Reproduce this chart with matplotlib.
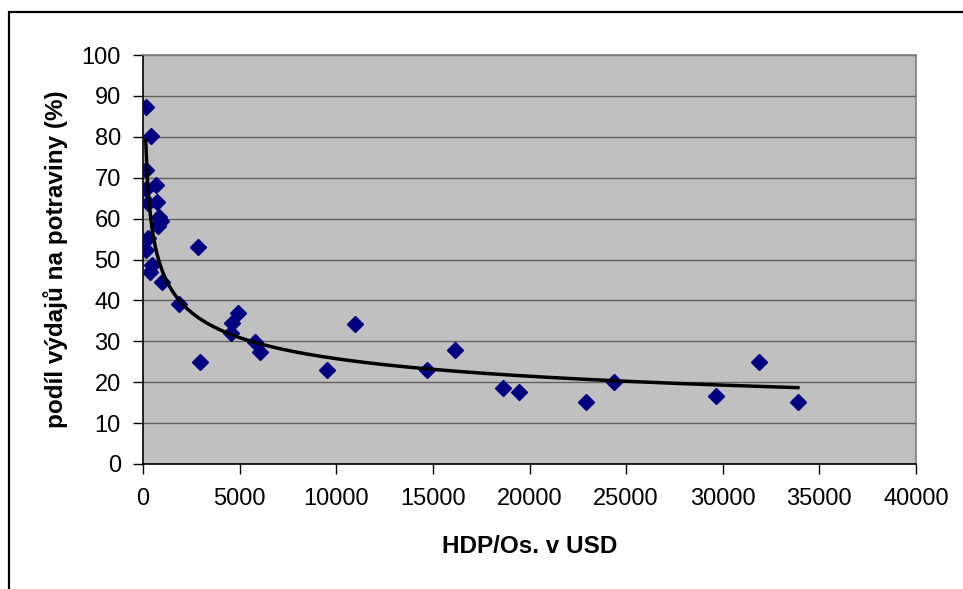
import numpy as np
import matplotlib.pyplot as plt
from matplotlib.patches import Rectangle

plt.rcParams['font.family'] = ['Liberation Sans', 'DejaVu Sans']

# GDP per capita (USD) and share of spending on food (%)
hdp = [170, 400, 170, 650, 170, 750, 260, 830, 920, 800, 260, 140,
       2850, 480, 360, 1000, 1870, 4940, 4630, 4550, 5810, 6080, 2970,
       10980, 9500, 14710, 16160, 18650, 19480, 22900, 24350, 29640,
       31900, 33890]
podil = [87.2, 80.3, 71.9, 68.2, 67.2, 64.1, 63.9, 60.3, 59.3, 58.2, 55.2, 52.3,
         53.0, 48.7, 47.0, 44.6, 39.1, 36.8, 34.4, 32.1, 29.9, 27.4, 25.0,
         34.3, 23.0, 23.1, 27.9, 18.6, 17.6, 15.2, 20.0, 16.7,
         24.9, 15.2]

x_ticks = [0, 5000, 10000, 15000, 20000, 25000, 30000, 35000, 40000]
y_ticks = [0, 10, 20, 30, 40, 50, 60, 70, 80, 90, 100]

x = np.array(hdp, dtype=float)
y = np.array(podil, dtype=float)

# power trendline y = c * x^b, fitted in log space
b, lnc = np.polyfit(np.log(x), np.log(y), 1)
xt = np.linspace(x.min(), x.max(), 400)
yt = np.exp(lnc) * xt ** b

fig = plt.figure(figsize=(9.63, 5.89), dpi=100)
ax = fig.add_axes([143 / 963, 1 - 464 / 589, (916 - 143) / 963, (464 - 55) / 589])

ax.set_facecolor('#C0C0C0')
ax.set_xlim(0, 40000)
ax.set_ylim(0, 100)
ax.set_xticks(x_ticks)
ax.set_yticks(y_ticks)
ax.grid(axis='y', color='#606060', linewidth=1.0)
ax.set_axisbelow(True)

ax.plot(x, y, linestyle='none', marker='D', markersize=8.5,
        color='#000080', zorder=3)
ax.plot(xt, yt, color='black', linewidth=2.5, zorder=4)

for side in ['top', 'right']:
    ax.spines[side].set_color('#808080')
    ax.spines[side].set_linewidth(1.2)
for side in ['left', 'bottom']:
    ax.spines[side].set_color('black')
    ax.spines[side].set_linewidth(1.2)

ax.tick_params(axis='both', direction='out', length=7, width=1, labelsize=17)
ax.tick_params(axis='x', pad=10)
ax.tick_params(axis='y', pad=9)

ax.set_xlabel('HDP/Os. v USD', fontsize=17.5, fontweight='bold', labelpad=18)
ax.set_ylabel('podíl výdajů na potraviny (%)', fontsize=17.5,
              fontweight='bold', labelpad=10)

# chart frame
fig.patches.append(Rectangle((9 / 963, -0.1), 1.2, 1 - 12 / 589 + 0.1,
                             transform=fig.transFigure, fill=False,
                             edgecolor='black', linewidth=1.6))

fig.savefig('out.png', dpi=100)
